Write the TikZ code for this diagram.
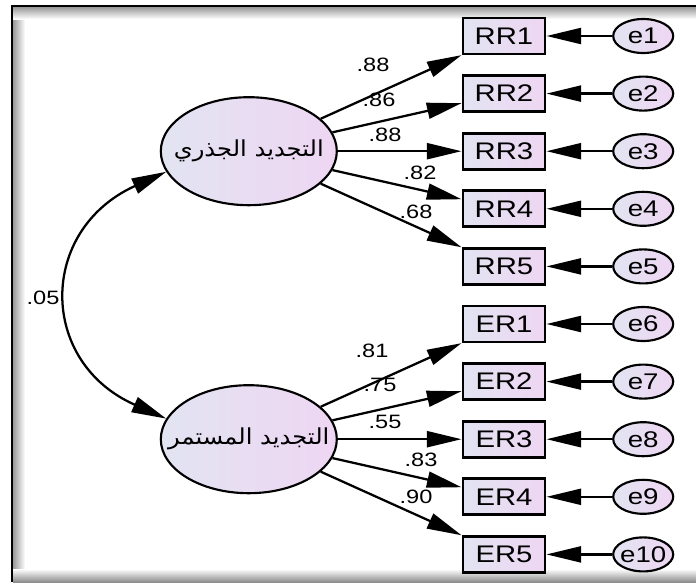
\documentclass[tikz,border=0pt]{standalone}
\usepackage{fontspec}
\usepackage{graphicx}
\setmainfont{Liberation Sans}
\newfontfamily\arabicfont[Script=Arabic]{DejaVu Sans}
\TeXXeTstate=1
\usetikzlibrary{positioning,arrows.meta,shapes.geometric}
\definecolor{fillleft}{RGB}{226,228,242}
\definecolor{fillright}{RGB}{238,214,242}
\newcommand{\wide}[1]{\scalebox{1.22}[1]{#1}}
\newcommand{\arwide}[1]{\scalebox{1.1}[1]{#1}}

\begin{document}
\begin{tikzpicture}[x=0.75pt, y=-0.75pt,
				lat/.style={ellipse, draw=black, line width=1.6pt, left color=fillleft, right color=fillright, minimum width=132pt, minimum height=81pt, inner sep=0pt, font=\arabicfont\fontsize{16.5}{18}\selectfont},
				ind/.style={rectangle, draw=black, line width=2.2pt, left color=fillleft, right color=fillright, minimum width=61.5pt, minimum height=27pt, inner sep=0pt, font=\fontsize{18}{20}\selectfont},
				err/.style={ellipse, draw=black, line width=1.6pt, left color=fillleft, right color=fillright, minimum width=45pt, minimum height=25.5pt, inner sep=0pt, font=\fontsize{17}{18}\selectfont},
				coef/.style={inner sep=0pt, font=\fontsize{14.5}{16}\selectfont},
				load/.style={line width=1.7pt, -{Triangle[length=26pt,width=12pt]}}
			]
			\useasboundingbox (0,0) rectangle (696,582);
			% frame
			\shade[left color=black!40, right color=white] (13,7) rectangle (25,582);
			\shade[top color=black!40, bottom color=white] (13,7) rectangle (696,19);
			\shade[top color=white, bottom color=black!45] (13,569) rectangle (696,582);
			\draw[line width=1.5pt] (11.5,582) -- (11.5,5.5) -- (696,5.5);
			% observed variables
			\node[ind] (rr1) at (504,36) {\wide{RR1}};
			\foreach \i [evaluate=\i as \j using int(\i-1)] in {2,...,5}
				\node[ind] (rr\i) [below=14pt of rr\j] {\wide{RR\i}};
			\node[ind] (er1) [below=14pt of rr5] {\wide{ER1}};
			\foreach \i [evaluate=\i as \j using int(\i-1)] in {2,...,5}
				\node[ind] (er\i) [below=14pt of er\j] {\wide{ER\i}};
			% errors
			\foreach \i in {1,...,5}
				\node[err] (e\i) [right=49.25pt of rr\i] {\makebox[0pt]{\wide{e\i}}};
			\foreach \i [evaluate=\i as \k using int(\i+5)] in {1,...,5}
				\node[err] (e\k) [right=49.25pt of er\i] {\makebox[0pt]{\wide{e\k}}};
			% latent variables
			\node[lat] (radical) [left=92.75pt of rr3] {\makebox[0pt]{\arwide{\beginR التجديد الجذري\endR}}};
			\node[lat] (continual) [left=92.75pt of er3] {\makebox[0pt]{\arwide{\beginR التجديد المستمر\endR}}};
			\begin{scope}[load]
			\foreach \i in {1,...,5} \draw (radical) -- (rr\i);
			\foreach \i in {1,...,5} \draw (continual) -- (er\i);
			\foreach \e/\b in {1/rr1,2/rr2,3/rr3,4/rr4,5/rr5,6/er1,7/er2,8/er3,9/er4,10/er5}
				\draw (e\e) -- (\b);
			\end{scope}
			\draw[line width=1.7pt, {Triangle[length=26pt,width=12pt]}-{Triangle[length=26pt,width=12pt]}] (radical.194) .. controls (38,230) and (38,362) .. (continual.166);
			% coefficients
			\foreach \n/\x/\y/\t in {c1/373/65/.88, c2/379/100/.86, c3/385/135/.88, c4/420/173/.82, c5/416/212/.68, c6/372/351/.81, c7/380/385/.75, c8/385/422/.55, c9/421/460/.83, c10/416/497/.90}
				\node[coef] (\n) at (\x,\y) {\wide{\t}};
			\node[coef] (cov) at (43,298) {\wide{.05}};
\end{tikzpicture}
\end{document}
